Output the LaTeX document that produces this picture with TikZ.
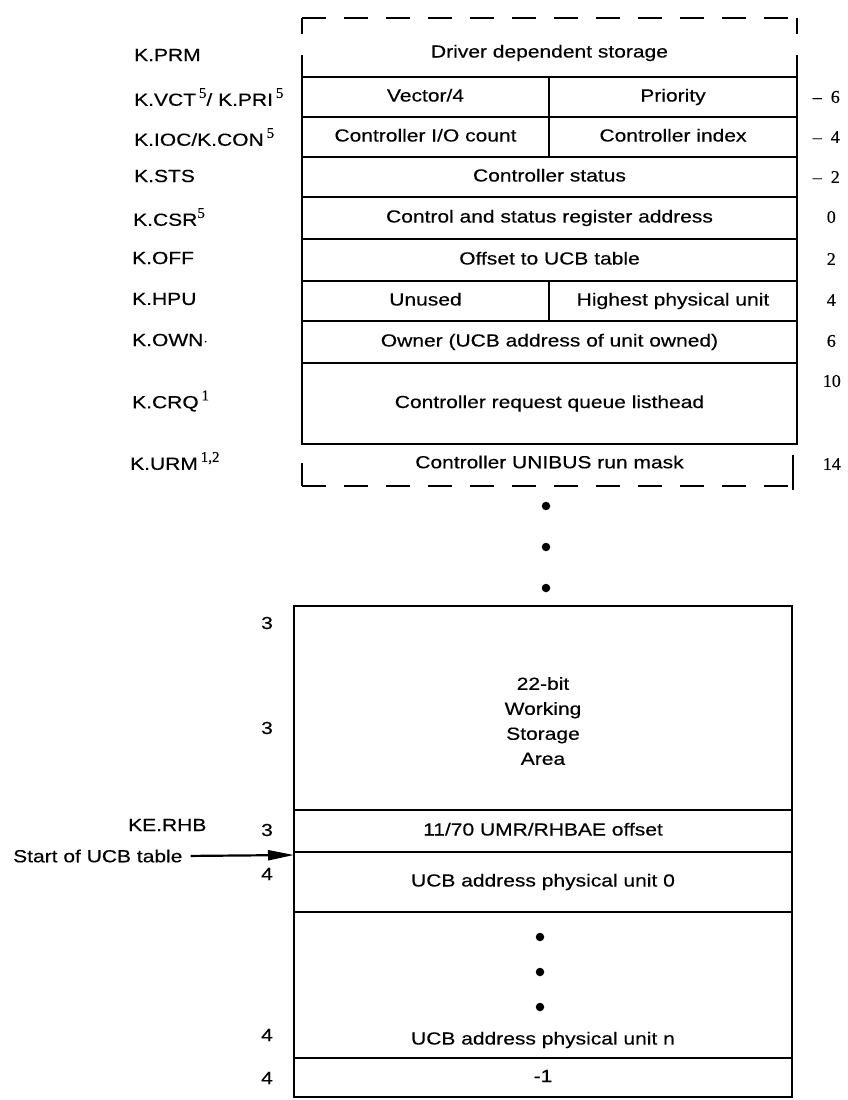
\documentclass[tikz,border=0pt]{standalone}
\usepackage{fontspec}
\setmainfont{Liberation Sans}[FakeStretch=1.2,FakeBold=0.35]
\newfontfamily\numfont{Liberation Serif}[FakeBold=0.3]
\usetikzlibrary{arrows.meta}
\newcommand\fs{\fontsize{17.5}{20}\selectfont}
\newcommand\nfs{\numfont\fontsize{18}{20}\selectfont}
\newcommand\sups[1]{\raisebox{0.45em}{\numfont\fontsize{15}{15}\selectfont #1}}
\tikzset{
  cell/.style={draw, line width=2.8pt, inner sep=0pt, outer sep=0pt, font=\fs, text height=12.5pt, text depth=3.5pt},
  lbl/.style={anchor=west, inner sep=0pt, font=\fs},
  num/.style={anchor=east, inner sep=0pt, font=\nfs},
  lnum/.style={inner sep=0pt, font=\fs},
  txt/.style={inner sep=0pt, font=\fs, align=center},
  bigdot/.style={circle, fill, inner sep=0pt, minimum size=8.5pt},
  edge/.style={line width=2.8pt},
  dashedge/.style={line width=2.8pt, dash pattern=on 24pt off 18pt},
  pointer/.style={line width=2.2pt, -{Triangle[length=26pt,width=10pt]}}
}
\begin{document}
\begin{tikzpicture}[x=1pt,y=-1pt]
\useasboundingbox (0,0) rectangle (847,1100);

% ---------- top block ----------
\draw[edge] (302,18) -- (302,34);
\draw[edge] (797,18) -- (797,34);
\draw[dashedge] (302,18) -- (797,18);
\draw[edge] (302,55) -- (302,77);
\draw[edge] (797,55) -- (797,77);
\node[txt] (prm) at (549.5,53) {Driver dependent storage};

\node[cell, minimum width=247, minimum height=40] (vec) at (425.5,97) {Vector/4};
\node[cell, minimum width=248, minimum height=40] (pri) at (673,97) {Priority};
\node[cell, minimum width=247, minimum height=40] (ioc) at (425.5,137) {Controller I/O count};
\node[cell, minimum width=248, minimum height=40] (con) at (673,137) {Controller index};
\node[cell, minimum width=495, minimum height=40] (sts) at (549.5,177) {Controller status};
\node[cell, minimum width=495, minimum height=42] (csr) at (549.5,218) {Control and status register address};
\node[cell, minimum width=495, minimum height=42] (off) at (549.5,260) {Offset to UCB table};
\node[cell, minimum width=247, minimum height=40] (unu) at (425.5,301) {Unused};
\node[cell, minimum width=248, minimum height=40] (hpu) at (673,301) {Highest physical unit};
\node[cell, minimum width=495, minimum height=42] (own) at (549.5,342) {Owner (UCB address of unit owned)};
\node[cell, minimum width=495, minimum height=81] (crq) at (549.5,403.5) {Controller request queue listhead};

\node[txt] (urm) at (549.5,462) {Controller UNIBUS run mask};
\draw[edge] (302,463) -- (302,486);
\draw[dashedge] (302,486) -- (793,486);
\draw[edge] (793,455) -- (793,490);

% left labels
\node[lbl] (lprm) at (134,55) {K.PRM};
\node[lbl] (lvct) at (134,97) {K.VCT\,\sups{5}/ K.PRI\,\sups{5}};
\node[lbl] (lioc) at (134,137) {K.IOC/K.CON\,\sups{5}};
\node[lbl] (lsts) at (134,176) {K.STS};
\node[lbl] (lcsr) at (133,217) {K.CSR\sups{5}};
\node[lbl] (loff) at (132,258) {K.OFF};
\node[lbl] (lhpu) at (132,299) {K.HPU};
\node[lbl] (lown) at (132,340) {K.OWN$\cdot$};
\node[lbl] (lcrq) at (132,401) {K.CRQ\,\sups{1}};
\node[lbl] (lurm) at (130,461) {K.URM\,\sups{1,2}};

% right offsets
\node[num] (o1) at (840,97) {\textendash\enspace6};
\node[num] (o2) at (840,137) {\textendash\enspace4};
\node[num] (o3) at (840,177) {\textendash\enspace2};
\node[num] (o4) at (836,217) {0};
\node[num] (o5) at (836,259) {2};
\node[num] (o6) at (836,300) {4};
\node[num] (o7) at (836,341) {6};
\node[num] (o8) at (841,381) {10};
\node[num] (o9) at (841,464) {14};

% dots between sections
\node[bigdot] (d1) at (546,506) {};
\node[bigdot] (d2) at (546,547) {};
\node[bigdot] (d3) at (546,588) {};

% ---------- bottom block ----------
\node[cell, minimum width=498, minimum height=204] (wsa) at (543,708) {};
\node[txt] (wsatxt) at (543,721) {22-bit\\[5pt]Working\\[5pt]Storage\\[5pt]Area};
\node[cell, minimum width=498, minimum height=42] (rhb) at (543,831) {11/70 UMR/RHBAE offset};
\node[cell, minimum width=498, minimum height=60] (ucb0) at (543,882) {UCB address physical unit 0};
\node[cell, minimum width=498, minimum height=146] (ucbn) at (543,985) {};
\node[bigdot] (e1) at (540,937) {};
\node[bigdot] (e2) at (540,972) {};
\node[bigdot] (e3) at (540,1007) {};
\node[txt] (ucbntxt) at (543,1040) {UCB address physical unit n};
\node[cell, minimum width=498, minimum height=39] (m1) at (543,1077.5) {-1};

% left side numbers
\node[lnum] (n1) at (267,623) {3};
\node[lnum] (n2) at (267,728) {3};
\node[lnum] (n3) at (267,830) {3};
\node[lnum] (n4) at (267,874) {4};
\node[lnum] (n5) at (267,1035) {4};
\node[lnum] (n6) at (267,1078) {4};

\node[lbl] (kerhb) at (128,825) {KE.RHB};
\node[lbl] (start) at (13,856) {Start of UCB table};
\coordinate (ucbstart) at (294,855);
\draw[pointer, shorten <=8pt] (start.east) -- (ucbstart);
\end{tikzpicture}
\end{document}
